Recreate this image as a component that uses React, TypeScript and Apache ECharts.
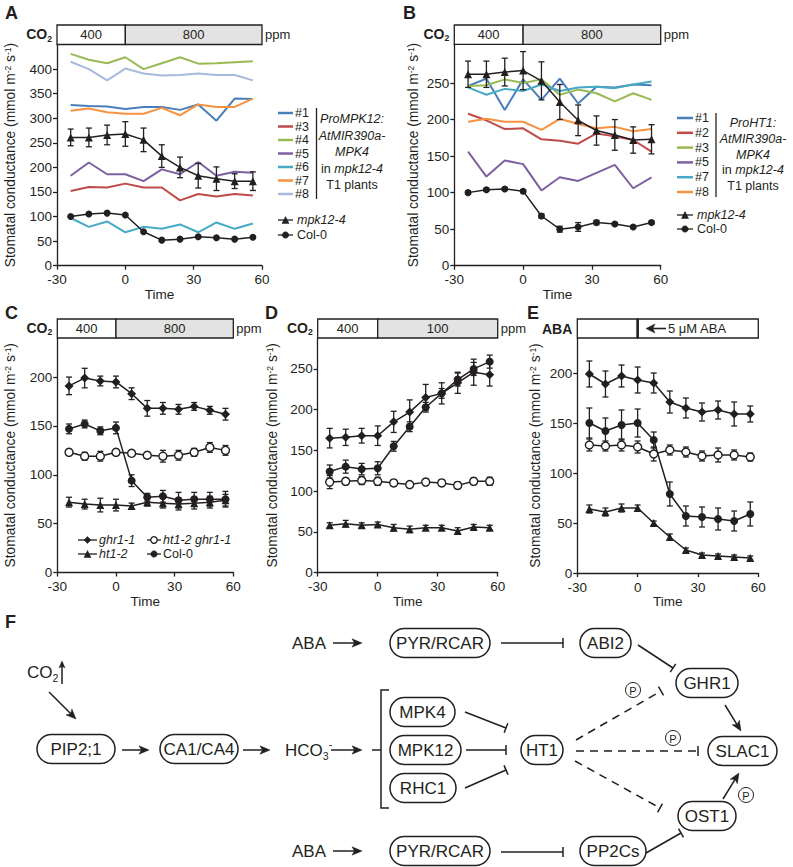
import React, { useEffect, useRef } from 'react';
import * as echarts from 'echarts';

const FONT = '"Liberation Sans", Arial, Helvetica, sans-serif';
const INK = '#231f20';

const timePoints = [-24, -16, -8, 0, 8, 16, 24, 32, 40, 48, 56];
const xTicks = [-30, 0, 30, 60];

// Panel A
const aYTicks = [0, 50, 100, 150, 200, 250, 300, 350, 400];
const aLine1 = [327, 325, 324, 319, 323, 323, 317, 328, 295, 340, 339];
const aLine3 = [152, 160, 159, 167, 159, 159, 133, 146, 141, 146, 143];
const aLine4 = [431, 419, 412, 424, 400, 412, 424, 411, 412, 414, 416];
const aLine5 = [183, 210, 186, 186, 172, 196, 186, 211, 183, 191, 189];
const aLine6 = [97, 79, 90, 68, 79, 75, 84, 68, 88, 75, 86];
const aLine7 = [315, 320, 312, 309, 309, 321, 306, 328, 323, 323, 340];
const aLine8 = [415, 400, 377, 401, 391, 387, 388, 391, 388, 388, 377];
const aMpk = [261, 261, 266, 268, 256, 223, 200, 183, 177, 172, 172];
const aMpkErr = [17, 19, 20, 25, 24, 23, 21, 25, 24, 15, 19];
const aCol = [100, 105, 107, 103, 69, 52, 54, 59, 57, 54, 58];
const aLegendNames = ['#1', '#3', '#4', '#5', '#6', '#7', '#8'];

// Panel B
const bYTicks = [0, 50, 100, 150, 200, 250];
const bLine1 = [246, 256, 213, 255, 227, 256, 222, 245, 244, 248, 247];
const bLine2 = [208, 199, 187, 188, 173, 171, 167, 181, 177, 172, 156];
const bLine3 = [246, 247, 255, 250, 255, 234, 241, 236, 225, 236, 227];
const bLine5 = [156, 122, 144, 139, 103, 121, 116, 127, 138, 106, 121];
const bLine7 = [244, 234, 242, 239, 248, 239, 244, 245, 243, 248, 252];
const bLine8 = [197, 201, 197, 197, 186, 201, 194, 188, 190, 184, 187];
const bMpk = [262, 262, 265, 267, 253, 224, 199, 185, 179, 172, 173];
const bMpkErr = [18, 18, 19, 26, 26, 24, 21, 20, 21, 18, 20];
const bCol = [100, 104, 105, 102, 68, 50, 53, 59, 57, 53, 59];
const bColErr = [2, 2, 2, 2, 3, 4, 6, 3, 2, 2, 2];
const bLegendNames = ['#1', '#2', '#3', '#5', '#7', '#8'];

// Panel C
const cYTicks = [0, 50, 100, 150, 200];
const cGhr = [191, 199, 196, 195, 183, 168, 168, 167, 170, 166, 162];
const cGhrErr = [9, 10, 5, 6, 6, 8, 6, 5, 4, 4, 6];
const cCol = [147, 152, 145, 148, 94, 77, 78, 74, 75, 75, 75];
const cColErr = [5, 4, 4, 6, 6, 4, 6, 8, 7, 7, 8];
const cDouble = [123, 119, 119, 123, 122, 120, 119, 120, 123, 128, 125];
const cDoubleErr = [3, 4, 5, 3, 3, 3, 6, 5, 4, 5, 5];
const cHt = [72, 70, 69, 69, 68, 72, 71, 70, 71, 72, 74];
const cHtErr = [5, 5, 7, 6, 3, 4, 5, 6, 6, 6, 6];

// Panel D
const dYTicks = [0, 50, 100, 150, 200, 250];
const dGhr = [165, 166, 168, 168, 185, 197, 215, 220, 233, 246, 243];
const dGhrErr = [12, 10, 9, 12, 13, 15, 16, 13, 13, 16, 14];
const dCol = [124, 130, 127, 128, 155, 179, 203, 220, 237, 250, 259];
const dColErr = [8, 8, 7, 8, 6, 6, 6, 6, 8, 8, 8];
const dDouble = [111, 112, 113, 112, 110, 108, 111, 110, 107, 112, 112];
const dDoubleErr = [8, 4, 5, 5, 4, 3, 4, 4, 4, 4, 5];
const dHt = [58, 60, 58, 59, 55, 53, 55, 55, 51, 56, 55];
const dHtErr = [3, 4, 3, 3, 4, 4, 3, 3, 4, 3, 3];

// Panel E
const eYTicks = [0, 50, 100, 150, 200];
const eGhr = [199, 189, 197, 193, 190, 171, 165, 161, 163, 159, 159];
const eGhrErr = [13, 13, 11, 13, 10, 11, 10, 9, 9, 12, 8];
const eCol = [150, 142, 148, 150, 133, 79, 57, 56, 54, 52, 59];
const eColErr = [15, 13, 15, 14, 8, 12, 10, 10, 11, 10, 12];
const eDouble = [128, 127, 128, 126, 119, 123, 121, 117, 118, 118, 116];
const eDoubleErr = [6, 5, 6, 6, 7, 5, 5, 5, 7, 5, 4];
const eHt = [64, 61, 65, 65, 50, 36, 23, 18, 17, 16, 15];
const eHtErr = [4, 4, 4, 3, 2, 3, 2, 2, 2, 2, 2];

const C_BLUE = '#4a7ebb';
const C_RED = '#be4b48';
const C_GREEN = '#98b954';
const C_PURPLE = '#7d60a0';
const C_AQUA = '#46aac5';
const C_ORANGE = '#f69240';
const C_LILAC = '#a8b9df';

const aColors = [C_BLUE, C_RED, C_GREEN, C_PURPLE, C_AQUA, C_ORANGE, C_LILAC];
const bColors = [C_BLUE, C_RED, C_GREEN, C_PURPLE, C_AQUA, C_ORANGE];

const panels = [
  { left: 57, top: 44.5, width: 205, height: 221.2, yMax: 450, ticks: aYTicks, nameGapY: 40, nameGapX: 20, lblMargin: 7 },
  { left: 454.3, top: 44.3, width: 206.4, height: 221.4, yMax: 303, ticks: bYTicks, nameGapY: 34, nameGapX: 20, lblMargin: 7 },
  { left: 57.3, top: 338, width: 176, height: 234.5, yMax: 240, ticks: cYTicks, nameGapY: 40, nameGapX: 17, lblMargin: 7 },
  { left: 317.7, top: 338, width: 180, height: 234.5, yMax: 288, ticks: dYTicks, nameGapY: 38, nameGapX: 17, lblMargin: 7 },
  { left: 577.3, top: 338, width: 181, height: 235, yMax: 235, ticks: eYTicks, nameGapY: 35, nameGapX: 17, lblMargin: 7 },
];

function pts(vals: number[]) {
  return timePoints.map((t, i) => [t, vals[i]]);
}

function colorLine(gi: number, vals: number[], color: string) {
  return {
    type: 'line', xAxisIndex: gi, yAxisIndex: gi, data: pts(vals), symbol: 'none',
    lineStyle: { color, width: 2 }, z: 2, silent: true,
  };
}

function blackLine(gi: number, vals: number[], symbol: string, size: number, open = false) {
  return {
    type: 'line', xAxisIndex: gi, yAxisIndex: gi, data: pts(vals), symbol, symbolSize: size,
    showSymbol: true,
    lineStyle: { color: INK, width: 1.5 },
    itemStyle: open ? { color: '#ffffff', borderColor: INK, borderWidth: 1.4 } : { color: INK, borderColor: INK, borderWidth: 0 },
    z: 4, silent: true,
  };
}

function errBars(gi: number, vals: number[], errs: number[]) {
  return {
    type: 'custom', xAxisIndex: gi, yAxisIndex: gi,
    data: timePoints.map((t, i) => [t, vals[i], errs[i]]),
    encode: { x: 0, y: 1 },
    z: 3, silent: true,
    renderItem: (params: any, api: any) => {
      const x = api.value(0), y = api.value(1), e = api.value(2);
      const hi = api.coord([x, y + e]);
      const lo = api.coord([x, y - e]);
      const st = { stroke: INK, lineWidth: 1.3 };
      const cw = 3;
      return {
        type: 'group',
        children: [
          { type: 'line', shape: { x1: hi[0], y1: hi[1], x2: lo[0], y2: lo[1] }, style: st },
          { type: 'line', shape: { x1: hi[0] - cw, y1: hi[1], x2: hi[0] + cw, y2: hi[1] }, style: st },
          { type: 'line', shape: { x1: lo[0] - cw, y1: lo[1], x2: lo[0] + cw, y2: lo[1] }, style: st },
        ],
      };
    },
  };
}

export default function App() {
  const ref = useRef<HTMLDivElement>(null);

  useEffect(() => {
    if (!ref.current) return;
    const chart = echarts.init(ref.current, undefined, { renderer: 'svg' });
    const ctx = document.createElement('canvas').getContext('2d') as CanvasRenderingContext2D;
    const tw = (text: string, size: number, weight = 'normal', style = 'normal') => {
      ctx.font = `${style} ${weight} ${size}px ${FONT}`;
      return ctx.measureText(text).width;
    };

    const g: any[] = [];
    const T = (x: number, y: number, text: string, size: number, o: any = {}) => {
      g.push({
        type: 'text', x, y, z: 20, silent: true,
        style: {
          text, fontSize: size, fontFamily: FONT, fill: o.fill || INK,
          align: o.align || 'left', verticalAlign: o.va || 'middle',
          textAlign: o.align || 'left', textVerticalAlign: o.va || 'middle',
          fontWeight: o.bold ? 'bold' : 'normal', fontStyle: o.italic ? 'italic' : 'normal',
        },
      });
    };
    const L = (x1: number, y1: number, x2: number, y2: number, w = 1.5, dash?: number[], color = INK) => {
      g.push({
        type: 'line', z: 15, silent: true,
        shape: { x1, y1, x2, y2 },
        style: { stroke: color, lineWidth: w, lineDash: dash || null },
      });
    };
    const chem = (x: number, y: number, parts: [string, string][], size: number, bold = false, align = 'left') => {
      const w = bold ? 'bold' : 'normal';
      const widths = parts.map(([t, k]) => tw(t, k === 'n' ? size : size * 0.62, w));
      const total = widths.reduce((a, b) => a + b, 0);
      let cx = align === 'right' ? x - total : x;
      parts.forEach(([t, k], i) => {
        const fs = k === 'n' ? size : size * 0.62;
        const dy = k === 'sub' ? size * 0.34 : k === 'sup' ? -size * 0.38 : 0;
        T(cx, y + dy, t, fs, { bold });
        cx += widths[i];
      });
    };
    const arrow = (x1: number, y1: number, x2: number, y2: number, len = 10, hw = 4.2, w = 1.5) => {
      const dx = x2 - x1, dy = y2 - y1;
      const d = Math.hypot(dx, dy);
      const ux = dx / d, uy = dy / d;
      const nx = -uy, ny = ux;
      L(x1, y1, x2 - ux * len * 0.7, y2 - uy * len * 0.7, w);
      g.push({
        type: 'polygon', z: 15, silent: true,
        shape: { points: [[x2, y2], [x2 - ux * len + nx * hw, y2 - uy * len + ny * hw], [x2 - ux * len * 0.75, y2 - uy * len * 0.75], [x2 - ux * len - nx * hw, y2 - uy * len - ny * hw]] },
        style: { fill: INK, stroke: INK, lineWidth: 0.5 },
      });
    };
    const inhibit = (x1: number, y1: number, x2: number, y2: number, dash = false) => {
      const dx = x2 - x1, dy = y2 - y1;
      const d = Math.hypot(dx, dy);
      const nx = -dy / d, ny = dx / d;
      L(x1, y1, x2, y2, 1.5, dash ? [8, 6] : undefined);
      L(x2 + nx * 5, y2 + ny * 5, x2 - nx * 5, y2 - ny * 5, 1.5);
    };
    const pill = (x0: number, x1: number, cy: number, label: string) => {
      const h = 29;
      g.push({
        type: 'rect', z: 14, silent: true,
        shape: { x: x0, y: cy - h / 2, width: x1 - x0, height: h, r: h / 2 },
        style: { fill: '#ffffff', stroke: INK, lineWidth: 1.5 },
      });
      T((x0 + x1) / 2, cy + 0.5, label, 17, { align: 'center' });
    };
    const pCircle = (cx: number, cy: number) => {
      g.push({ type: 'circle', z: 15, silent: true, shape: { cx, cy, r: 7.5 }, style: { fill: '#fff', stroke: INK, lineWidth: 1 } });
      T(cx, cy + 0.5, 'P', 11, { align: 'center' });
    };
    const marker = (kind: string, cx: number, cy: number, s: number, open = false) => {
      const style = open ? { fill: '#fff', stroke: INK, lineWidth: 1.3 } : { fill: INK, stroke: INK, lineWidth: 0.5 };
      if (kind === 'circle') g.push({ type: 'circle', z: 16, silent: true, shape: { cx, cy, r: s / 2 }, style });
      else if (kind === 'triangle') g.push({ type: 'polygon', z: 16, silent: true, shape: { points: [[cx, cy - s / 2], [cx + s / 2, cy + s / 2], [cx - s / 2, cy + s / 2]] }, style });
      else g.push({ type: 'polygon', z: 16, silent: true, shape: { points: [[cx, cy - s / 2], [cx + s / 2, cy], [cx, cy + s / 2], [cx - s / 2, cy]] }, style });
    };

    // panel letters
    T(5, 13, 'A', 18, { bold: true });
    T(403, 13, 'B', 18, { bold: true });
    T(5, 313, 'C', 18, { bold: true });
    T(265, 313, 'D', 18, { bold: true });
    T(527, 313, 'E', 18, { bold: true });
    T(5, 622, 'F', 18, { bold: true });

    // treatment boxes
    const treatBox = (p: any, y0: number, y1: number, leftTxt: string, rightTxt: string, grey: boolean, label: 'co2' | 'aba', ppm: boolean) => {
      const split = p.left + p.width / 3;
      const right = p.left + p.width;
      g.push({ type: 'rect', z: 12, silent: true, shape: { x: p.left, y: y0, width: split - p.left, height: y1 - y0 }, style: { fill: '#fff', stroke: INK, lineWidth: 1.3 } });
      g.push({ type: 'rect', z: 12, silent: true, shape: { x: split, y: y0, width: right - split, height: y1 - y0 }, style: { fill: grey ? '#e3e3e3' : '#fff', stroke: INK, lineWidth: 1.3 } });
      const cy = (y0 + y1) / 2;
      if (leftTxt) T((p.left + split) / 2, cy, leftTxt, 13, { align: 'center' });
      if (label === 'co2') {
        T((split + right) / 2, cy, rightTxt, 13, { align: 'center' });
        chem(p.left - 5, cy - 1, [['CO', 'n'], ['2', 'sub']], 14, true, 'right');
      } else {
        L(split, y0, split, y1, 2.6);
        arrow(666, cy, 646, cy, 9, 4.5, 1.6);
        T(668, cy, '5 \u03bcM ABA', 13);
        T(p.left - 5, cy, 'ABA', 14, { bold: true, align: 'right' });
      }
      if (ppm) T(right + 3, cy, 'ppm', 13);
    };
    treatBox(panels[0], 25, 44.5, '400', '800', true, 'co2', true);
    treatBox(panels[1], 25, 44.3, '400', '800', true, 'co2', true);
    treatBox(panels[2], 319, 338, '400', '800', true, 'co2', true);
    treatBox(panels[3], 319, 338, '400', '100', true, 'co2', true);
    treatBox(panels[4], 319, 338, '', '', false, 'aba', false);

    // Legend A
    aLegendNames.forEach((n, i) => {
      const y = 113 + i * 13.5;
      L(278, y, 293, y, 2.5, undefined, aColors[i]);
      T(295, y, n, 12.5);
    });
    L(316.5, 108, 316.5, 199, 1.3);
    T(352, 119, 'ProMPK12:', 12.5, { italic: true, align: 'center' });
    T(352, 135.5, 'AtMIR390a-', 12.5, { italic: true, align: 'center' });
    T(352, 152, 'MPK4', 12.5, { italic: true, align: 'center' });
    {
      const w1 = tw('in ', 12.5), w2 = tw('mpk12-4', 12.5, 'normal', 'italic');
      const x0 = 352 - (w1 + w2) / 2;
      T(x0, 168.5, 'in ', 12.5);
      T(x0 + w1, 168.5, 'mpk12-4', 12.5, { italic: true });
    }
    T(352, 185, 'T1 plants', 12.5, { align: 'center' });
    L(278, 220, 293, 220, 1.3); marker('triangle', 285.5, 220, 7);
    T(297, 220, 'mpk12-4', 12.5, { italic: true });
    L(278, 235, 293, 235, 1.3); marker('circle', 285.5, 235, 6.5);
    T(297, 235, 'Col-0', 12.5);

    // Legend B
    bLegendNames.forEach((n, i) => {
      const y = 118 + i * 14.8;
      L(677, y, 693, y, 2.5, undefined, bColors[i]);
      T(695, y, n, 12.5);
    });
    L(716, 113, 716, 197, 1.3);
    T(753, 123, 'ProHT1:', 12.5, { italic: true, align: 'center' });
    T(753, 138.8, 'AtMIR390a-', 12.5, { italic: true, align: 'center' });
    T(753, 154.5, 'MPK4', 12.5, { italic: true, align: 'center' });
    {
      const w1 = tw('in ', 12.5), w2 = tw('mpk12-4', 12.5, 'normal', 'italic');
      const x0 = 753 - (w1 + w2) / 2;
      T(x0, 170.3, 'in ', 12.5);
      T(x0 + w1, 170.3, 'mpk12-4', 12.5, { italic: true });
    }
    T(753, 186, 'T1 plants', 12.5, { align: 'center' });
    L(677, 215, 693, 215, 1.3); marker('triangle', 685, 215, 7);
    T(697, 215, 'mpk12-4', 12.5, { italic: true });
    L(677, 229, 693, 229, 1.3); marker('circle', 685, 229, 6.5);
    T(697, 229, 'Col-0', 12.5);

    // Legend C
    L(78, 540, 97, 540, 1.3); marker('diamond', 87.5, 540, 7);
    T(99, 540, 'ghr1-1', 12.5, { italic: true });
    L(147, 540, 161, 540, 1.3); marker('circle', 154, 540, 6.5, true);
    T(163, 540, 'ht1-2 ghr1-1', 12.5, { italic: true });
    L(78, 554, 97, 554, 1.3); marker('triangle', 87.5, 554, 7);
    T(99, 554, 'ht1-2', 12.5, { italic: true });
    L(147, 554, 161, 554, 1.3); marker('circle', 154, 554, 6.5);
    T(163, 554, 'Col-0', 12.5);

    // Panel F diagram
    T(292, 643, 'ABA', 17);
    arrow(333, 643, 362, 643);
    pill(390, 490, 643, 'PYR/RCAR');
    inhibit(501, 643, 563, 643);
    pill(580, 631, 643, 'ABI2');
    inhibit(638, 645, 673, 668);
    pill(676, 738, 683, 'GHR1');

    chem(27, 672, [['CO', 'n'], ['2', 'sub']], 17);
    arrow(62, 684, 62, 661, 7, 3, 1.5);
    arrow(49, 692, 76, 719);
    pill(37, 115, 749, 'PIP2;1');
    arrow(122, 750, 149, 750);
    pill(160, 238, 749, 'CA1/CA4');
    arrow(243, 750, 270, 750);
    chem(285, 750, [['HCO', 'n'], ['3', 'sub'], ['-', 'sup']], 17);
    arrow(331, 750, 362, 750);
    g.push({ type: 'polyline', z: 15, silent: true, shape: { points: [[389, 690], [381, 690], [381, 808], [389, 808]] }, style: { stroke: INK, lineWidth: 1.5, fill: null } });
    L(372, 750, 381, 750, 1.5);
    pill(390, 455, 712, 'MPK4');
    pill(390, 461, 750, 'MPK12');
    pill(390, 456, 788, 'RHC1');
    inhibit(465, 712, 506, 728);
    inhibit(466, 750, 506, 750);
    inhibit(465, 788, 506, 770);
    pill(521, 563, 750, 'HT1');
    inhibit(576, 740, 661, 691, true);
    inhibit(576, 751, 698, 751, true);
    inhibit(575, 761, 660, 808, true);
    pCircle(633, 690);
    pCircle(673, 738);
    pCircle(746, 795);
    pill(708, 777, 751, 'SLAC1');
    arrow(725, 705, 741, 731);
    pill(678, 736, 816, 'OST1');
    arrow(723, 799, 739, 773);
    T(292, 851, 'ABA', 17);
    arrow(333, 851, 362, 851);
    pill(390, 490, 851, 'PYR/RCAR');
    inhibit(501, 852, 563, 852);
    pill(580, 646, 851, 'PP2Cs');
    inhibit(646, 853, 681, 833);

    const series: any[] = [
      colorLine(0, aLine1, aColors[0]),
      colorLine(0, aLine3, aColors[1]),
      colorLine(0, aLine4, aColors[2]),
      colorLine(0, aLine5, aColors[3]),
      colorLine(0, aLine6, aColors[4]),
      colorLine(0, aLine7, aColors[5]),
      colorLine(0, aLine8, aColors[6]),
      errBars(0, aMpk, aMpkErr),
      blackLine(0, aMpk, 'triangle', 8),
      blackLine(0, aCol, 'circle', 7),

      colorLine(1, bLine1, bColors[0]),
      colorLine(1, bLine2, bColors[1]),
      colorLine(1, bLine3, bColors[2]),
      colorLine(1, bLine5, bColors[3]),
      colorLine(1, bLine7, bColors[4]),
      colorLine(1, bLine8, bColors[5]),
      errBars(1, bMpk, bMpkErr),
      errBars(1, bCol, bColErr),
      blackLine(1, bMpk, 'triangle', 8),
      blackLine(1, bCol, 'circle', 7),

      errBars(2, cGhr, cGhrErr), errBars(2, cCol, cColErr), errBars(2, cDouble, cDoubleErr), errBars(2, cHt, cHtErr),
      blackLine(2, cGhr, 'diamond', 9), blackLine(2, cCol, 'circle', 8), blackLine(2, cDouble, 'circle', 8, true), blackLine(2, cHt, 'triangle', 8),

      errBars(3, dGhr, dGhrErr), errBars(3, dCol, dColErr), errBars(3, dDouble, dDoubleErr), errBars(3, dHt, dHtErr),
      blackLine(3, dGhr, 'diamond', 9), blackLine(3, dCol, 'circle', 8), blackLine(3, dDouble, 'circle', 8, true), blackLine(3, dHt, 'triangle', 8),

      errBars(4, eGhr, eGhrErr), errBars(4, eCol, eColErr), errBars(4, eDouble, eDoubleErr), errBars(4, eHt, eHtErr),
      blackLine(4, eGhr, 'diamond', 9), blackLine(4, eCol, 'circle', 8), blackLine(4, eDouble, 'circle', 8, true), blackLine(4, eHt, 'triangle', 8),
    ];

    const option: any = {
      animation: false,
      backgroundColor: '#ffffff',
      textStyle: { fontFamily: FONT },
      grid: panels.map((p) => ({ left: p.left, top: p.top, width: p.width, height: p.height, containLabel: false, outerBoundsMode: 'none' })),
      xAxis: panels.map((p, i) => ({
        type: 'value', gridIndex: i, min: -30, max: 60, interval: 30,
        axisLine: { onZero: false, lineStyle: { color: INK, width: 1.3 } },
        axisTick: { show: true, length: 4, customValues: xTicks, lineStyle: { color: INK, width: 1.3 } },
        axisLabel: { fontSize: 13.5, color: INK, margin: p.lblMargin, fontFamily: FONT, customValues: xTicks },
        splitLine: { show: false },
        name: 'Time', nameLocation: 'middle', nameGap: p.nameGapX,
        nameTextStyle: { fontSize: 13.5, color: INK, fontFamily: FONT },
      })),
      yAxis: panels.map((p, i) => ({
        type: 'value', gridIndex: i, min: 0, max: p.yMax, interval: 50,
        axisLine: { onZero: false, lineStyle: { color: INK, width: 1.3 } },
        axisTick: { show: true, length: 4, customValues: p.ticks, lineStyle: { color: INK, width: 1.3 } },
        axisLabel: { fontSize: 13.5, color: INK, margin: 5, fontFamily: FONT, customValues: p.ticks },
        splitLine: { show: false },
        name: 'Stomatal conductance (mmol m{sup|-2} s{sup|-1})',
        nameLocation: 'middle', nameRotate: 90, nameGap: p.nameGapY,
        nameTextStyle: {
          fontSize: 13.8, color: INK, fontFamily: FONT,
          rich: { sup: { fontSize: 8.5, color: INK, fontFamily: FONT, verticalAlign: 'top' } },
        },
      })),
      series,
      graphic: { elements: g },
    };
    chart.setOption(option);
    return () => chart.dispose();
  }, []);

  return (
    <div
      ref={ref}
      style={{ position: 'absolute', left: 0, top: 0, width: 793, height: 867, background: '#fff' }}
    />
  );
}
